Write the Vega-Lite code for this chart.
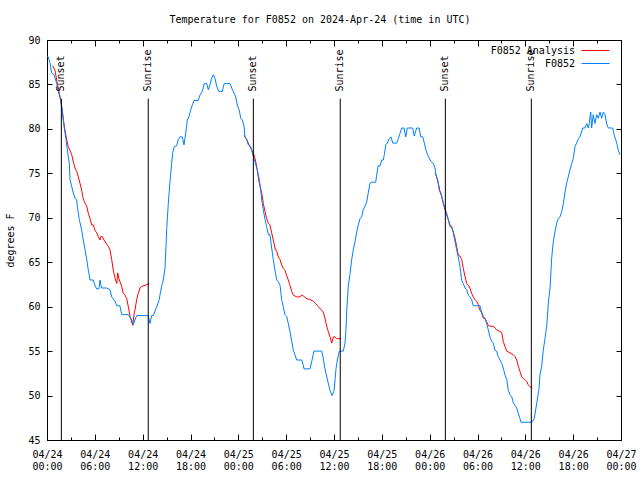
{
  "$schema": "https://vega.github.io/schema/vega-lite/v6.json",
  "width": 574,
  "height": 400,
  "autosize": "none",
  "padding": {"left": 47, "top": 40, "right": 19, "bottom": 40},
  "background": "#ffffff",
  "title": {
    "text": "Temperature for F0852 on 2024-Apr-24 (time in UTC)",
    "font": "DejaVu Sans Mono",
    "fontSize": 10,
    "fontWeight": "normal",
    "color": "#000000",
    "anchor": "middle",
    "frame": "group",
    "dx": -14,
    "baseline": "bottom",
    "offset": 0
  },
  "config": {
    "font": "DejaVu Sans Mono",
    "view": {"stroke": "#000000", "strokeWidth": 1},
    "axis": {
      "labelFont": "DejaVu Sans Mono",
      "labelFontSize": 10,
      "labelColor": "#000000",
      "tickColor": "#000000",
      "tickWidth": 1,
      "titleFont": "DejaVu Sans Mono",
      "titleFontSize": 10,
      "titleFontWeight": "normal",
      "titleColor": "#000000",
      "grid": false,
      "domain": false
    }
  },
  "datasets": {
    "obs": [
      {"t":"2024-04-24T00:00Z","temp":88.2},{"t":"2024-04-24T00:10Z","temp":88.1},{"t":"2024-04-24T00:23Z","temp":87.4},{"t":"2024-04-24T00:35Z","temp":86.3},{"t":"2024-04-24T00:53Z","temp":86.1},{"t":"2024-04-24T01:13Z","temp":85.1},{"t":"2024-04-24T01:25Z","temp":84.2},{"t":"2024-04-24T01:43Z","temp":83.3},{"t":"2024-04-24T01:58Z","temp":81.8},{"t":"2024-04-24T02:08Z","temp":80.3},{"t":"2024-04-24T02:23Z","temp":78.8},{"t":"2024-04-24T02:36Z","temp":77.3},{"t":"2024-04-24T02:48Z","temp":76.1},{"t":"2024-04-24T02:53Z","temp":74.3},{"t":"2024-04-24T03:06Z","temp":73.5},{"t":"2024-04-24T03:18Z","temp":72.8},{"t":"2024-04-24T03:31Z","temp":72.2},{"t":"2024-04-24T03:44Z","temp":72.0},{"t":"2024-04-24T03:48Z","temp":71.3},{"t":"2024-04-24T04:03Z","temp":69.8},{"t":"2024-04-24T04:21Z","temp":68.6},{"t":"2024-04-24T04:33Z","temp":67.5},{"t":"2024-04-24T04:46Z","temp":66.4},{"t":"2024-04-24T04:59Z","temp":65.3},{"t":"2024-04-24T05:11Z","temp":64.1},{"t":"2024-04-24T05:24Z","temp":63.0},{"t":"2024-04-24T05:48Z","temp":63.0},{"t":"2024-04-24T06:01Z","temp":62.4},{"t":"2024-04-24T06:14Z","temp":62.0},{"t":"2024-04-24T06:31Z","temp":62.0},{"t":"2024-04-24T06:39Z","temp":63.0},{"t":"2024-04-24T06:46Z","temp":62.4},{"t":"2024-04-24T06:52Z","temp":62.1},{"t":"2024-04-24T07:29Z","temp":62.1},{"t":"2024-04-24T07:54Z","temp":61.9},{"t":"2024-04-24T08:07Z","temp":61.1},{"t":"2024-04-24T08:32Z","temp":60.6},{"t":"2024-04-24T08:45Z","temp":60.1},{"t":"2024-04-24T09:09Z","temp":60.1},{"t":"2024-04-24T09:22Z","temp":59.1},{"t":"2024-04-24T10:12Z","temp":59.1},{"t":"2024-04-24T10:38Z","temp":58.5},{"t":"2024-04-24T10:50Z","temp":58.0},{"t":"2024-04-24T11:02Z","temp":58.5},{"t":"2024-04-24T11:15Z","temp":59.0},{"t":"2024-04-24T12:42Z","temp":59.0},{"t":"2024-04-24T12:55Z","temp":58.1},{"t":"2024-04-24T13:08Z","temp":59.0},{"t":"2024-04-24T13:20Z","temp":59.0},{"t":"2024-04-24T13:46Z","temp":60.0},{"t":"2024-04-24T14:05Z","temp":60.8},{"t":"2024-04-24T14:10Z","temp":61.3},{"t":"2024-04-24T14:23Z","temp":62.3},{"t":"2024-04-24T14:35Z","temp":63.0},{"t":"2024-04-24T14:48Z","temp":64.3},{"t":"2024-04-24T14:56Z","temp":66.8},{"t":"2024-04-24T15:01Z","temp":68.8},{"t":"2024-04-24T15:13Z","temp":71.6},{"t":"2024-04-24T15:26Z","temp":74.1},{"t":"2024-04-24T15:38Z","temp":76.1},{"t":"2024-04-24T15:46Z","temp":77.3},{"t":"2024-04-24T15:58Z","temp":78.0},{"t":"2024-04-24T16:16Z","temp":78.1},{"t":"2024-04-24T16:28Z","temp":78.8},{"t":"2024-04-24T16:41Z","temp":79.1},{"t":"2024-04-24T16:58Z","temp":79.1},{"t":"2024-04-24T17:11Z","temp":78.2},{"t":"2024-04-24T17:24Z","temp":79.5},{"t":"2024-04-24T17:36Z","temp":81.0},{"t":"2024-04-24T17:49Z","temp":81.4},{"t":"2024-04-24T18:01Z","temp":82.1},{"t":"2024-04-24T18:14Z","temp":82.7},{"t":"2024-04-24T18:26Z","temp":83.2},{"t":"2024-04-24T18:59Z","temp":83.2},{"t":"2024-04-24T19:11Z","temp":83.8},{"t":"2024-04-24T19:29Z","temp":84.2},{"t":"2024-04-24T19:44Z","temp":85.1},{"t":"2024-04-24T20:02Z","temp":85.1},{"t":"2024-04-24T20:14Z","temp":84.4},{"t":"2024-04-24T20:27Z","temp":85.0},{"t":"2024-04-24T20:39Z","temp":85.7},{"t":"2024-04-24T20:52Z","temp":86.1},{"t":"2024-04-24T21:04Z","temp":85.7},{"t":"2024-04-24T21:17Z","temp":84.8},{"t":"2024-04-24T21:34Z","temp":84.2},{"t":"2024-04-24T21:59Z","temp":84.2},{"t":"2024-04-24T22:14Z","temp":85.1},{"t":"2024-04-24T22:57Z","temp":85.1},{"t":"2024-04-24T23:10Z","temp":84.6},{"t":"2024-04-24T23:22Z","temp":84.2},{"t":"2024-04-24T23:40Z","temp":83.6},{"t":"2024-04-24T23:52Z","temp":82.7},
      {"t":"2024-04-25T00:07Z","temp":82.1},{"t":"2024-04-25T00:18Z","temp":81.2},{"t":"2024-04-25T00:30Z","temp":81.0},{"t":"2024-04-25T00:43Z","temp":80.3},{"t":"2024-04-25T00:50Z","temp":79.1},{"t":"2024-04-25T01:03Z","temp":78.8},{"t":"2024-04-25T01:15Z","temp":78.2},{"t":"2024-04-25T01:33Z","temp":78.0},{"t":"2024-04-25T01:45Z","temp":77.3},{"t":"2024-04-25T02:05Z","temp":76.3},{"t":"2024-04-25T02:23Z","temp":75.4},{"t":"2024-04-25T02:38Z","temp":74.3},{"t":"2024-04-25T02:48Z","temp":73.1},{"t":"2024-04-25T02:56Z","temp":72.0},{"t":"2024-04-25T03:08Z","temp":70.9},{"t":"2024-04-25T03:21Z","temp":69.8},{"t":"2024-04-25T03:33Z","temp":69.0},{"t":"2024-04-25T03:46Z","temp":68.1},{"t":"2024-04-25T03:58Z","temp":68.1},{"t":"2024-04-25T04:11Z","temp":66.6},{"t":"2024-04-25T04:23Z","temp":65.3},{"t":"2024-04-25T04:36Z","temp":64.1},{"t":"2024-04-25T04:49Z","temp":63.0},{"t":"2024-04-25T05:01Z","temp":62.8},{"t":"2024-04-25T05:14Z","temp":62.4},{"t":"2024-04-25T05:26Z","temp":60.8},{"t":"2024-04-25T05:38Z","temp":60.0},{"t":"2024-04-25T05:51Z","temp":59.1},{"t":"2024-04-25T06:04Z","temp":58.9},{"t":"2024-04-25T06:16Z","temp":58.1},{"t":"2024-04-25T06:29Z","temp":57.2},{"t":"2024-04-25T06:42Z","temp":56.1},{"t":"2024-04-25T06:54Z","temp":55.1},{"t":"2024-04-25T07:06Z","temp":54.6},{"t":"2024-04-25T07:19Z","temp":54.0},{"t":"2024-04-25T07:57Z","temp":54.0},{"t":"2024-04-25T08:09Z","temp":53.4},{"t":"2024-04-25T08:14Z","temp":53.0},{"t":"2024-04-25T08:59Z","temp":53.0},{"t":"2024-04-25T09:12Z","temp":53.8},{"t":"2024-04-25T09:29Z","temp":55.0},{"t":"2024-04-25T10:27Z","temp":55.0},{"t":"2024-04-25T10:39Z","temp":54.2},{"t":"2024-04-25T10:52Z","temp":53.0},{"t":"2024-04-25T11:15Z","temp":51.5},{"t":"2024-04-25T11:30Z","temp":50.6},{"t":"2024-04-25T11:45Z","temp":50.0},{"t":"2024-04-25T12:00Z","temp":50.5},{"t":"2024-04-25T12:08Z","temp":51.8},{"t":"2024-04-25T12:15Z","temp":53.0},{"t":"2024-04-25T12:25Z","temp":54.0},{"t":"2024-04-25T12:40Z","temp":55.0},{"t":"2024-04-25T13:10Z","temp":55.0},{"t":"2024-04-25T13:23Z","temp":55.9},{"t":"2024-04-25T13:30Z","temp":57.4},{"t":"2024-04-25T13:36Z","temp":59.6},{"t":"2024-04-25T13:48Z","temp":62.4},{"t":"2024-04-25T14:00Z","temp":63.6},{"t":"2024-04-25T14:13Z","temp":65.3},{"t":"2024-04-25T14:25Z","temp":66.4},{"t":"2024-04-25T14:38Z","temp":67.3},{"t":"2024-04-25T14:51Z","temp":68.4},{"t":"2024-04-25T15:03Z","temp":69.2},{"t":"2024-04-25T15:16Z","temp":69.9},{"t":"2024-04-25T15:28Z","temp":70.1},{"t":"2024-04-25T15:40Z","temp":70.9},{"t":"2024-04-25T15:53Z","temp":71.3},{"t":"2024-04-25T16:06Z","temp":71.8},{"t":"2024-04-25T16:18Z","temp":72.8},{"t":"2024-04-25T16:31Z","temp":73.9},{"t":"2024-04-25T16:44Z","temp":74.0},{"t":"2024-04-25T17:14Z","temp":74.0},{"t":"2024-04-25T17:21Z","temp":74.8},{"t":"2024-04-25T17:33Z","temp":75.9},{"t":"2024-04-25T17:46Z","temp":75.8},{"t":"2024-04-25T17:59Z","temp":76.5},{"t":"2024-04-25T18:11Z","temp":76.5},{"t":"2024-04-25T18:19Z","temp":77.1},{"t":"2024-04-25T18:29Z","temp":78.2},{"t":"2024-04-25T18:41Z","temp":78.4},{"t":"2024-04-25T18:56Z","temp":78.9},{"t":"2024-04-25T19:09Z","temp":79.1},{"t":"2024-04-25T19:22Z","temp":78.4},{"t":"2024-04-25T19:52Z","temp":78.4},{"t":"2024-04-25T20:04Z","temp":78.9},{"t":"2024-04-25T20:17Z","temp":79.5},{"t":"2024-04-25T20:30Z","temp":80.1},{"t":"2024-04-25T20:47Z","temp":80.1},{"t":"2024-04-25T21:00Z","temp":79.1},{"t":"2024-04-25T21:12Z","temp":80.1},{"t":"2024-04-25T21:52Z","temp":80.1},{"t":"2024-04-25T22:04Z","temp":79.2},{"t":"2024-04-25T22:22Z","temp":80.1},{"t":"2024-04-25T22:40Z","temp":80.1},{"t":"2024-04-25T22:53Z","temp":79.1},{"t":"2024-04-25T23:08Z","temp":79.1},{"t":"2024-04-25T23:20Z","temp":78.4},{"t":"2024-04-25T23:32Z","temp":77.6},{"t":"2024-04-25T23:50Z","temp":76.9},
      {"t":"2024-04-26T00:03Z","temp":76.5},{"t":"2024-04-26T00:15Z","temp":76.3},{"t":"2024-04-26T00:27Z","temp":76.1},{"t":"2024-04-26T00:40Z","temp":75.6},{"t":"2024-04-26T00:48Z","temp":74.8},{"t":"2024-04-26T01:00Z","temp":74.3},{"t":"2024-04-26T01:12Z","temp":73.1},{"t":"2024-04-26T01:23Z","temp":72.9},{"t":"2024-04-26T01:31Z","temp":72.4},{"t":"2024-04-26T01:43Z","temp":71.6},{"t":"2024-04-26T01:55Z","temp":71.1},{"t":"2024-04-26T02:08Z","temp":70.5},{"t":"2024-04-26T02:20Z","temp":69.8},{"t":"2024-04-26T02:33Z","temp":69.0},{"t":"2024-04-26T02:46Z","temp":68.9},{"t":"2024-04-26T02:58Z","temp":68.3},{"t":"2024-04-26T03:11Z","temp":67.3},{"t":"2024-04-26T03:23Z","temp":66.4},{"t":"2024-04-26T03:35Z","temp":65.6},{"t":"2024-04-26T03:48Z","temp":64.5},{"t":"2024-04-26T04:01Z","temp":63.0},{"t":"2024-04-26T04:13Z","temp":62.6},{"t":"2024-04-26T04:26Z","temp":62.1},{"t":"2024-04-26T04:39Z","temp":61.9},{"t":"2024-04-26T04:51Z","temp":61.3},{"t":"2024-04-26T05:03Z","temp":61.1},{"t":"2024-04-26T05:16Z","temp":60.8},{"t":"2024-04-26T05:28Z","temp":60.1},{"t":"2024-04-26T06:19Z","temp":60.1},{"t":"2024-04-26T06:31Z","temp":59.4},{"t":"2024-04-26T06:44Z","temp":58.9},{"t":"2024-04-26T06:56Z","temp":58.7},{"t":"2024-04-26T07:09Z","temp":58.1},{"t":"2024-04-26T07:21Z","temp":57.4},{"t":"2024-04-26T07:34Z","temp":56.6},{"t":"2024-04-26T07:47Z","temp":56.1},{"t":"2024-04-26T07:59Z","temp":55.9},{"t":"2024-04-26T08:12Z","temp":55.1},{"t":"2024-04-26T08:24Z","temp":55.0},{"t":"2024-04-26T08:36Z","temp":54.4},{"t":"2024-04-26T08:49Z","temp":54.0},{"t":"2024-04-26T09:02Z","temp":53.6},{"t":"2024-04-26T09:14Z","temp":53.1},{"t":"2024-04-26T09:27Z","temp":52.3},{"t":"2024-04-26T09:40Z","temp":51.8},{"t":"2024-04-26T09:52Z","temp":50.6},{"t":"2024-04-26T10:04Z","temp":50.1},{"t":"2024-04-26T10:17Z","temp":49.9},{"t":"2024-04-26T10:29Z","temp":49.2},{"t":"2024-04-26T10:42Z","temp":48.9},{"t":"2024-04-26T10:55Z","temp":48.6},{"t":"2024-04-26T11:07Z","temp":48.0},{"t":"2024-04-26T11:20Z","temp":47.4},{"t":"2024-04-26T11:27Z","temp":47.0},{"t":"2024-04-26T12:50Z","temp":47.0},{"t":"2024-04-26T13:07Z","temp":47.4},{"t":"2024-04-26T13:20Z","temp":48.6},{"t":"2024-04-26T13:30Z","temp":49.5},{"t":"2024-04-26T13:43Z","temp":50.8},{"t":"2024-04-26T13:50Z","temp":52.3},{"t":"2024-04-26T14:03Z","temp":53.3},{"t":"2024-04-26T14:15Z","temp":55.1},{"t":"2024-04-26T14:28Z","temp":56.4},{"t":"2024-04-26T14:41Z","temp":57.8},{"t":"2024-04-26T14:53Z","temp":60.4},{"t":"2024-04-26T15:06Z","temp":62.1},{"t":"2024-04-26T15:18Z","temp":65.4},{"t":"2024-04-26T15:30Z","temp":67.3},{"t":"2024-04-26T15:43Z","temp":68.4},{"t":"2024-04-26T15:56Z","temp":69.4},{"t":"2024-04-26T16:08Z","temp":69.9},{"t":"2024-04-26T16:21Z","temp":70.1},{"t":"2024-04-26T16:34Z","temp":70.7},{"t":"2024-04-26T16:46Z","temp":71.6},{"t":"2024-04-26T16:58Z","temp":72.8},{"t":"2024-04-26T17:11Z","temp":73.9},{"t":"2024-04-26T17:23Z","temp":74.6},{"t":"2024-04-26T17:36Z","temp":75.4},{"t":"2024-04-26T17:49Z","temp":76.1},{"t":"2024-04-26T18:01Z","temp":76.7},{"t":"2024-04-26T18:14Z","temp":78.0},{"t":"2024-04-26T18:26Z","temp":78.4},{"t":"2024-04-26T18:39Z","temp":78.9},{"t":"2024-04-26T18:51Z","temp":79.1},{"t":"2024-04-26T19:12Z","temp":80.1},{"t":"2024-04-26T19:29Z","temp":80.1},{"t":"2024-04-26T19:42Z","temp":80.6},{"t":"2024-04-26T19:54Z","temp":80.1},{"t":"2024-04-26T20:01Z","temp":80.6},{"t":"2024-04-26T20:12Z","temp":81.9},{"t":"2024-04-26T20:19Z","temp":80.1},{"t":"2024-04-26T20:31Z","temp":81.6},{"t":"2024-04-26T20:44Z","temp":80.6},{"t":"2024-04-26T20:57Z","temp":81.6},{"t":"2024-04-26T21:09Z","temp":81.2},{"t":"2024-04-26T21:22Z","temp":81.9},{"t":"2024-04-26T21:35Z","temp":81.2},{"t":"2024-04-26T21:47Z","temp":81.9},{"t":"2024-04-26T22:00Z","temp":81.6},{"t":"2024-04-26T22:12Z","temp":80.6},{"t":"2024-04-26T22:24Z","temp":80.1},{"t":"2024-04-26T22:57Z","temp":80.1},{"t":"2024-04-26T23:09Z","temp":79.3},{"t":"2024-04-26T23:28Z","temp":78.4},{"t":"2024-04-26T23:40Z","temp":77.6},{"t":"2024-04-26T23:52Z","temp":77.1}
    ],
    "analysis": [
      {"t":"2024-04-24T00:43Z","temp":87.1,"seg":1},{"t":"2024-04-24T01:00Z","temp":86.6,"seg":1},{"t":"2024-04-24T01:13Z","temp":85.5,"seg":1},{"t":"2024-04-24T01:25Z","temp":84.6,"seg":1},{"t":"2024-04-24T01:38Z","temp":83.6,"seg":1},{"t":"2024-04-24T01:45Z","temp":83.1,"seg":1},{"t":"2024-04-24T01:53Z","temp":82.1,"seg":1},{"t":"2024-04-24T02:03Z","temp":81.0,"seg":1},{"t":"2024-04-24T02:15Z","temp":79.9,"seg":1},{"t":"2024-04-24T02:28Z","temp":78.8,"seg":1},{"t":"2024-04-24T02:40Z","temp":78.0,"seg":1},{"t":"2024-04-24T02:53Z","temp":77.6,"seg":1},{"t":"2024-04-24T03:06Z","temp":77.1,"seg":1},{"t":"2024-04-24T03:18Z","temp":76.3,"seg":1},{"t":"2024-04-24T03:31Z","temp":75.6,"seg":1},{"t":"2024-04-24T03:44Z","temp":75.2,"seg":1},{"t":"2024-04-24T03:56Z","temp":74.6,"seg":1},{"t":"2024-04-24T04:08Z","temp":73.9,"seg":1},{"t":"2024-04-24T04:21Z","temp":73.1,"seg":1},{"t":"2024-04-24T04:29Z","temp":72.4,"seg":1},{"t":"2024-04-24T04:41Z","temp":71.8,"seg":1},{"t":"2024-04-24T04:59Z","temp":71.3,"seg":1},{"t":"2024-04-24T05:11Z","temp":70.5,"seg":1},{"t":"2024-04-24T05:24Z","temp":69.9,"seg":1},{"t":"2024-04-24T05:36Z","temp":69.2,"seg":1},{"t":"2024-04-24T05:48Z","temp":69.2,"seg":1},{"t":"2024-04-24T06:01Z","temp":68.6,"seg":1},{"t":"2024-04-24T06:14Z","temp":68.3,"seg":1},{"t":"2024-04-24T06:26Z","temp":67.9,"seg":1},{"t":"2024-04-24T06:39Z","temp":67.5,"seg":1},{"t":"2024-04-24T06:46Z","temp":67.9,"seg":1},{"t":"2024-04-24T06:56Z","temp":67.9,"seg":1},{"t":"2024-04-24T07:16Z","temp":67.3,"seg":1},{"t":"2024-04-24T07:41Z","temp":66.8,"seg":1},{"t":"2024-04-24T07:54Z","temp":66.4,"seg":1},{"t":"2024-04-24T08:07Z","temp":65.3,"seg":1},{"t":"2024-04-24T08:19Z","temp":64.1,"seg":1},{"t":"2024-04-24T08:32Z","temp":63.2,"seg":1},{"t":"2024-04-24T08:45Z","temp":62.6,"seg":1},{"t":"2024-04-24T08:52Z","temp":63.8,"seg":1},{"t":"2024-04-24T09:04Z","temp":63.0,"seg":1},{"t":"2024-04-24T09:22Z","temp":62.3,"seg":1},{"t":"2024-04-24T09:34Z","temp":61.5,"seg":1},{"t":"2024-04-24T09:47Z","temp":61.3,"seg":1},{"t":"2024-04-24T10:00Z","temp":60.9,"seg":1},{"t":"2024-04-24T10:12Z","temp":60.0,"seg":1},{"t":"2024-04-24T10:25Z","temp":58.9,"seg":1},{"t":"2024-04-24T10:45Z","temp":57.9,"seg":1},{"t":"2024-04-24T10:57Z","temp":59.3,"seg":1},{"t":"2024-04-24T11:02Z","temp":59.6,"seg":1},{"t":"2024-04-24T11:15Z","temp":60.8,"seg":1},{"t":"2024-04-24T11:27Z","temp":61.5,"seg":1},{"t":"2024-04-24T11:40Z","temp":62.1,"seg":1},{"t":"2024-04-24T11:53Z","temp":62.3,"seg":1},{"t":"2024-04-24T12:18Z","temp":62.4,"seg":1},{"t":"2024-04-24T12:50Z","temp":62.6,"seg":1},
      {"t":"2024-04-25T00:43Z","temp":79.3,"seg":2},{"t":"2024-04-25T01:03Z","temp":78.8,"seg":2},{"t":"2024-04-25T01:15Z","temp":78.4,"seg":2},{"t":"2024-04-25T01:28Z","temp":78.0,"seg":2},{"t":"2024-04-25T01:48Z","temp":77.4,"seg":2},{"t":"2024-04-25T01:58Z","temp":77.1,"seg":2},{"t":"2024-04-25T02:08Z","temp":76.5,"seg":2},{"t":"2024-04-25T02:18Z","temp":75.8,"seg":2},{"t":"2024-04-25T02:30Z","temp":74.6,"seg":2},{"t":"2024-04-25T02:38Z","temp":73.9,"seg":2},{"t":"2024-04-25T02:56Z","temp":72.8,"seg":2},{"t":"2024-04-25T03:08Z","temp":71.6,"seg":2},{"t":"2024-04-25T03:21Z","temp":70.7,"seg":2},{"t":"2024-04-25T03:33Z","temp":69.9,"seg":2},{"t":"2024-04-25T03:46Z","temp":69.4,"seg":2},{"t":"2024-04-25T03:58Z","temp":69.2,"seg":2},{"t":"2024-04-25T04:11Z","temp":68.3,"seg":2},{"t":"2024-04-25T04:23Z","temp":67.5,"seg":2},{"t":"2024-04-25T04:36Z","temp":66.6,"seg":2},{"t":"2024-04-25T04:49Z","temp":66.2,"seg":2},{"t":"2024-04-25T05:01Z","temp":65.6,"seg":2},{"t":"2024-04-25T05:14Z","temp":65.3,"seg":2},{"t":"2024-04-25T05:26Z","temp":64.7,"seg":2},{"t":"2024-04-25T05:38Z","temp":64.3,"seg":2},{"t":"2024-04-25T05:51Z","temp":64.1,"seg":2},{"t":"2024-04-25T06:04Z","temp":63.5,"seg":2},{"t":"2024-04-25T06:16Z","temp":63.0,"seg":2},{"t":"2024-04-25T06:29Z","temp":62.4,"seg":2},{"t":"2024-04-25T06:42Z","temp":61.7,"seg":2},{"t":"2024-04-25T06:54Z","temp":61.3,"seg":2},{"t":"2024-04-25T07:19Z","temp":61.1,"seg":2},{"t":"2024-04-25T07:44Z","temp":61.1,"seg":2},{"t":"2024-04-25T07:57Z","temp":61.3,"seg":2},{"t":"2024-04-25T08:09Z","temp":61.2,"seg":2},{"t":"2024-04-25T08:35Z","temp":60.9,"seg":2},{"t":"2024-04-25T08:59Z","temp":60.8,"seg":2},{"t":"2024-04-25T09:24Z","temp":60.6,"seg":2},{"t":"2024-04-25T09:37Z","temp":60.4,"seg":2},{"t":"2024-04-25T09:50Z","temp":60.2,"seg":2},{"t":"2024-04-25T10:02Z","temp":60.0,"seg":2},{"t":"2024-04-25T10:27Z","temp":59.6,"seg":2},{"t":"2024-04-25T10:39Z","temp":59.4,"seg":2},{"t":"2024-04-25T10:52Z","temp":58.7,"seg":2},{"t":"2024-04-25T11:05Z","temp":57.8,"seg":2},{"t":"2024-04-25T11:17Z","temp":57.2,"seg":2},{"t":"2024-04-25T11:30Z","temp":56.6,"seg":2},{"t":"2024-04-25T11:43Z","temp":55.9,"seg":2},{"t":"2024-04-25T11:55Z","temp":56.6,"seg":2},{"t":"2024-04-25T12:08Z","temp":56.6,"seg":2},{"t":"2024-04-25T12:20Z","temp":56.4,"seg":2},{"t":"2024-04-25T12:53Z","temp":56.4,"seg":2},
      {"t":"2024-04-26T00:40Z","temp":75.0,"seg":3},{"t":"2024-04-26T00:48Z","temp":74.8,"seg":3},{"t":"2024-04-26T01:05Z","temp":73.9,"seg":3},{"t":"2024-04-26T01:18Z","temp":72.9,"seg":3},{"t":"2024-04-26T01:31Z","temp":72.4,"seg":3},{"t":"2024-04-26T01:43Z","temp":71.6,"seg":3},{"t":"2024-04-26T01:55Z","temp":70.9,"seg":3},{"t":"2024-04-26T02:08Z","temp":70.3,"seg":3},{"t":"2024-04-26T02:20Z","temp":69.8,"seg":3},{"t":"2024-04-26T02:33Z","temp":69.2,"seg":3},{"t":"2024-04-26T02:46Z","temp":69.0,"seg":3},{"t":"2024-04-26T02:58Z","temp":68.4,"seg":3},{"t":"2024-04-26T03:11Z","temp":67.7,"seg":3},{"t":"2024-04-26T03:23Z","temp":66.8,"seg":3},{"t":"2024-04-26T03:35Z","temp":65.8,"seg":3},{"t":"2024-04-26T03:48Z","temp":65.7,"seg":3},{"t":"2024-04-26T04:01Z","temp":65.3,"seg":3},{"t":"2024-04-26T04:13Z","temp":64.3,"seg":3},{"t":"2024-04-26T04:26Z","temp":63.4,"seg":3},{"t":"2024-04-26T04:39Z","temp":62.6,"seg":3},{"t":"2024-04-26T04:51Z","temp":62.4,"seg":3},{"t":"2024-04-26T05:03Z","temp":62.1,"seg":3},{"t":"2024-04-26T05:16Z","temp":61.5,"seg":3},{"t":"2024-04-26T05:28Z","temp":61.1,"seg":3},{"t":"2024-04-26T05:41Z","temp":60.8,"seg":3},{"t":"2024-04-26T05:54Z","temp":60.6,"seg":3},{"t":"2024-04-26T06:06Z","temp":60.2,"seg":3},{"t":"2024-04-26T06:19Z","temp":59.6,"seg":3},{"t":"2024-04-26T06:31Z","temp":59.3,"seg":3},{"t":"2024-04-26T06:44Z","temp":58.7,"seg":3},{"t":"2024-04-26T06:56Z","temp":58.7,"seg":3},{"t":"2024-04-26T07:09Z","temp":58.3,"seg":3},{"t":"2024-04-26T07:21Z","temp":57.9,"seg":3},{"t":"2024-04-26T07:34Z","temp":57.8,"seg":3},{"t":"2024-04-26T07:59Z","temp":57.8,"seg":3},{"t":"2024-04-26T08:12Z","temp":57.6,"seg":3},{"t":"2024-04-26T08:24Z","temp":57.4,"seg":3},{"t":"2024-04-26T08:49Z","temp":57.2,"seg":3},{"t":"2024-04-26T09:02Z","temp":57.1,"seg":3},{"t":"2024-04-26T09:14Z","temp":56.1,"seg":3},{"t":"2024-04-26T09:27Z","temp":55.5,"seg":3},{"t":"2024-04-26T09:40Z","temp":55.0,"seg":3},{"t":"2024-04-26T10:04Z","temp":54.8,"seg":3},{"t":"2024-04-26T10:29Z","temp":54.6,"seg":3},{"t":"2024-04-26T10:42Z","temp":54.4,"seg":3},{"t":"2024-04-26T10:55Z","temp":54.0,"seg":3},{"t":"2024-04-26T11:07Z","temp":53.3,"seg":3},{"t":"2024-04-26T11:20Z","temp":52.7,"seg":3},{"t":"2024-04-26T11:33Z","temp":52.1,"seg":3},{"t":"2024-04-26T11:45Z","temp":51.9,"seg":3},{"t":"2024-04-26T11:57Z","temp":51.8,"seg":3},{"t":"2024-04-26T12:10Z","temp":51.6,"seg":3},{"t":"2024-04-26T12:22Z","temp":51.2,"seg":3},{"t":"2024-04-26T12:35Z","temp":51.0,"seg":3},{"t":"2024-04-26T12:52Z","temp":50.8,"seg":3}
    ],
    "sun": [
      {"t":"2024-04-24T01:48Z","label":"Sunset"},
      {"t":"2024-04-24T12:42Z","label":"Sunrise"},
      {"t":"2024-04-25T01:53Z","label":"Sunset"},
      {"t":"2024-04-25T12:47Z","label":"Sunrise"},
      {"t":"2024-04-26T01:58Z","label":"Sunset"},
      {"t":"2024-04-26T12:45Z","label":"Sunrise"}
    ]
  },
  "layer": [
    {
      "data": {"name": "analysis"},
      "mark": {"type": "line", "strokeWidth": 1},
      "encoding": {
        "x": {
          "field": "t", "type": "temporal",
          "scale": {"type": "utc", "domain": [{"year": 2024, "month": 4, "date": 24, "utc": true}, {"year": 2024, "month": 4, "date": 27, "utc": true}]},
          "axis": {
            "orient": "bottom", "title": null,
            "tickCount": 12,
            "tickSize": -6,
            "labelExpr": "[utcFormat(datum.value, '%m/%d'), utcFormat(datum.value, '%H:%M')]",
            "labelPadding": 15,
            "labelOverlap": false,
            "labelFlush": false,
            "labelBaseline": "top",
            "labelLineHeight": 12
          }
        },
        "y": {
          "field": "temp", "type": "quantitative",
          "scale": {"domain": [45, 90], "nice": false, "zero": false},
          "axis": {
            "orient": "left", "title": "degrees F",
            "values": [45, 50, 55, 60, 65, 70, 75, 80, 85, 90],
            "tickSize": -5, "labelPadding": 12, "titlePadding": 12
          }
        },
        "detail": {"field": "seg", "type": "nominal"},
        "color": {
          "datum": "F0852 Analysis",
          "type": "nominal",
          "scale": {"domain": ["F0852 Analysis", "F0852"], "range": ["#ff0000", "#0080ff"]},
          "legend": {
            "title": null, "orient": "none", "legendX": 441, "legendY": 3,
            "symbolType": "M-2,0H2", "symbolSize": 196, "symbolStrokeWidth": 1,
            "rowPadding": 0, "padding": 0,
            "labelAlign": "right", "labelOffset": -28, "symbolOffset": 100,
            "labelFont": "DejaVu Sans Mono", "labelFontSize": 10, "labelColor": "#000000", "labelLimit": 200
          }
        }
      }
    },
    {
      "data": {"name": "obs"},
      "mark": {"type": "line", "strokeWidth": 1},
      "encoding": {
        "x": {
          "field": "t", "type": "temporal",
          "axis": {"orient": "top", "title": null, "labels": false, "tickCount": 12, "tickSize": -6}
        },
        "y": {
          "field": "temp", "type": "quantitative",
          "axis": {"orient": "right", "title": null, "labels": false, "values": [45, 50, 55, 60, 65, 70, 75, 80, 85, 90], "tickSize": -5}
        },
        "color": {"datum": "F0852", "type": "nominal"}
      }
    },
    {
      "data": {"name": "sun"},
      "mark": {"type": "rule", "color": "#000000", "strokeWidth": 1},
      "encoding": {
        "x": {"field": "t", "type": "temporal", "axis": {"orient": "bottom", "title": null, "labels": false, "tickCount": 36, "tickSize": -3}},
        "y": {"datum": 83.4, "type": "quantitative", "axis": null},
        "y2": {"datum": 45}
      }
    },
    {
      "data": {"name": "sun"},
      "mark": {"type": "text", "angle": 270, "align": "left", "baseline": "middle", "font": "DejaVu Sans Mono", "fontSize": 10, "color": "#000000"},
      "encoding": {
        "x": {"field": "t", "type": "temporal", "axis": {"orient": "top", "title": null, "labels": false, "tickCount": 36, "tickSize": -3}},
        "y": {"datum": 84.2, "type": "quantitative", "axis": null},
        "text": {"field": "label"}
      }
    }
  ],
  "resolve": {"axis": {"x": "independent", "y": "independent"}}
}
